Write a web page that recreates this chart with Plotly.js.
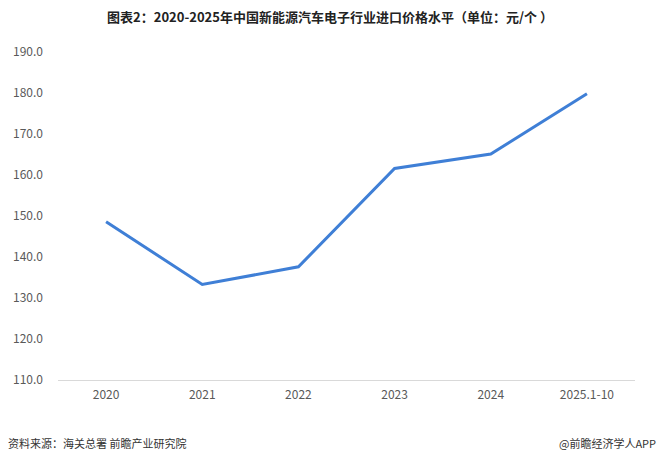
<!DOCTYPE html>
<html><head><meta charset="utf-8">
<script src="https://cdn.plot.ly/plotly-3.0.1.min.js"></script>
<style>html,body{margin:0;padding:0;background:#fff}#c{width:660px;height:454px}</style>
</head><body><div id="c"></div>
<script>
const categories = ["2020","2021","2022","2023","2024","2025.1-10"];
const prices = [148.6, 133.3, 137.6, 161.6, 165.1, 179.8];
const yTicks = [110,120,130,140,150,160,170,180,190];
const yTickText = yTicks.map(v => v.toFixed(1));
const titleText = "图表2：2020-2025年中国新能源汽车电子行业进口价格水平（单位：元/个 ）";
const sourceText = "资料来源：海关总署 前瞻产业研究院";
const creditText = "@前瞻经济学人APP";

const font = "'Noto Sans CJK SC', 'Noto Sans', sans-serif";
Plotly.newPlot("c", [{
  x: categories, y: prices, type: "scatter", mode: "lines",
  line: {color: "#3f7fd6", width: 3}, hoverinfo: "skip"
}], {
  width: 660, height: 454,
  margin: {l: 58, r: 25, t: 52, b: 74},
  paper_bgcolor: "#fff", plot_bgcolor: "#fff",
  showlegend: false,
  font: {family: font, color: "#595959", size: 12},
  title: {text: "<b>" + titleText + "</b>", x: 0.5, xanchor: "center", y: 0.962, yanchor: "middle",
          font: {family: font, size: 13, color: "#222"}},
  xaxis: {type: "category", range: [-0.5, 5.5], showgrid: false, zeroline: false, showline: true, linecolor: "#d9d9d9", linewidth: 1,
          ticks: "", tickfont: {size: 12, color: "#595959"}, ticklabelstandoff: 4, fixedrange: true},
  yaxis: {range: [110, 190], tickvals: yTicks, ticktext: yTickText, showgrid: false, zeroline: false,
          showline: false, ticks: "", tickfont: {size: 12, color: "#595959"}, ticklabelstandoff: 14, fixedrange: true},
  annotations: [
    {text: sourceText, xref: "paper", yref: "paper", x: -0.09, xanchor: "left", y: 0, yshift: -63, yanchor: "middle",
     showarrow: false, font: {family: font, size: 11, color: "#333"}},
    {text: creditText, xref: "paper", yref: "paper", x: 1.04, xanchor: "right", y: 0, yshift: -63, yanchor: "middle",
     showarrow: false, font: {family: font, size: 11, color: "#333"}}
  ]
}, {staticPlot: true});
</script></body></html>
